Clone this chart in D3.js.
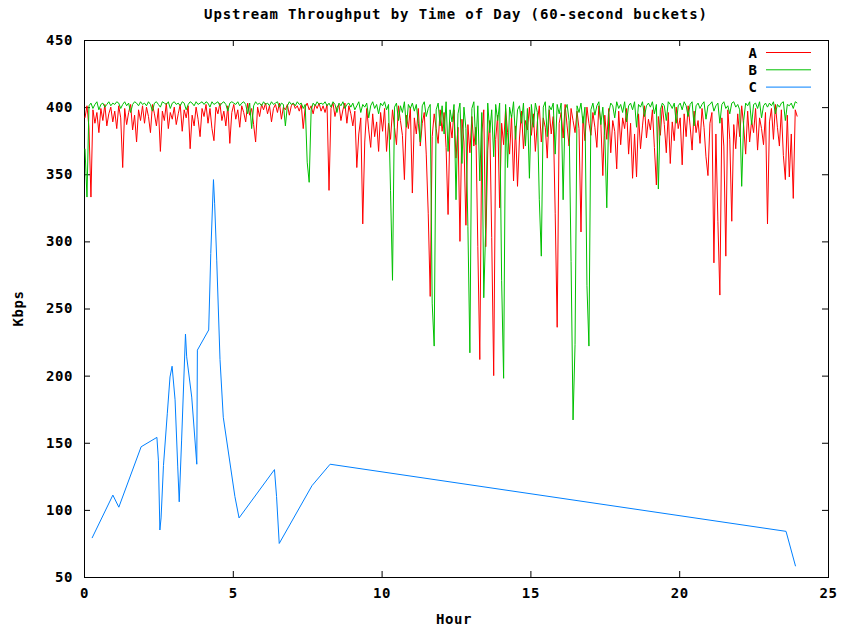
<!DOCTYPE html>
<html>
<head>
<meta charset="utf-8">
<script src="https://cdn.jsdelivr.net/npm/d3@7"></script>
<style>
  body { margin: 0; background: #fff; }
  svg text { font-family: "DejaVu Sans Mono", monospace; font-weight: bold; font-size: 14px; fill: #000; }
</style>
</head>
<body>
<svg id="chart" width="846" height="633"></svg>
<script>
// ---- data -------------------------------------------------------------
const chartTitle = "Upstream Throughput by Time of Day (60-second buckets)";
const xLabel = "Hour";
const yLabel = "Kbps";
const xTicks = [0, 5, 10, 15, 20, 25];
const yTicks = [50, 100, 150, 200, 250, 300, 350, 400, 450];
const seriesNames = ["A", "B", "C"];
const seriesColors = ["#ff0000", "#00c000", "#0080ff"];

// A and B: one value per 4-minute step, one row per hour of the day
const bucketsPerHour = 15;
const throughputA = [
  392,401,385,333,398,388,396,381,399,390,402,386,395,400,389,
  397,384,401,392,355,399,387,396,402,383,394,374,398,390,401,
  388,400,393,381,402,395,386,399,367,397,390,403,384,396,391,
  400,387,395,402,382,398,392,401,369,394,386,400,391,378,399,
  393,402,388,399,384,375,400,395,403,390,397,386,401,373,396,
  402,391,398,385,401,396,389,403,394,399,387,374,400,393,402,
  398,403,395,401,389,399,402,396,403,391,400,398,402,394,401,
  403,399,401,397,402,384,400,403,398,401,395,402,399,403,397,
  401,396,402,338,399,403,393,400,402,390,398,403,388,401,395,
  386,397,355,380,392,313,374,399,383,370,395,378,389,367,396,
  382,399,367,388,376,398,385,372,401,390,379,346,394,384,400,
  336,392,380,399,371,388,396,365,321,259,378,395,384,373,398,
  382,396,370,320,389,377,398,362,385,300,391,374,312,387,366,
  393,371,385,296,212,380,398,296,368,390,303,200,376,394,325,
  388,372,399,381,365,394,345,386,341,377,397,369,390,383,400,
  379,395,367,389,401,374,392,385,362,398,380,393,321,236,388,
  396,377,402,386,371,399,390,381,397,384,307,393,375,400,388,
  379,396,385,370,401,388,349,394,376,399,366,390,382,354,397,
  372,392,384,399,365,388,347,380,348,395,369,386,401,377,391,
  383,398,370,342,393,379,401,387,366,396,358,389,375,400,384,
  392,357,395,378,401,386,368,397,381,390,373,399,385,363,349,
  388,396,284,380,315,260,392,371,289,398,376,315,387,369,395,
  378,401,386,365,397,374,390,381,399,368,392,384,372,396,313,
  389,399,376,402,385,371,398,364,346,394,348,380,332,398,393
];
const throughputB = [
  369,333,401,403,399,402,404,398,402,403,400,402,404,401,403,
  402,404,403,399,402,404,401,403,396,402,404,403,401,404,402,
  403,401,404,402,397,403,404,402,400,404,403,402,404,399,403,
  404,402,403,401,404,403,398,402,404,403,401,404,402,403,404,
  402,404,403,400,404,402,403,404,401,403,404,402,397,403,404,
  403,402,404,401,403,404,402,395,403,384,401,404,402,403,401,
  404,402,403,401,404,402,403,404,400,403,402,386,401,404,402,
  403,401,404,402,403,399,402,359,344,398,403,401,404,402,403,
  402,404,401,403,400,404,402,396,403,401,404,399,402,403,400,
  403,398,401,404,396,402,400,403,392,401,404,399,402,395,403,
  401,404,398,402,338,271,400,403,390,401,396,404,385,402,399,
  403,397,402,388,374,401,404,393,399,402,254,222,398,403,386,
  401,380,404,367,398,389,402,331,395,403,358,400,384,311,217,
  399,404,372,401,345,396,258,312,403,381,398,363,402,390,403,
  271,198,402,355,400,392,404,376,398,401,388,403,371,399,347,
  402,385,403,396,331,289,400,404,378,401,398,403,365,402,395,
  403,331,398,402,390,285,167,223,401,396,403,388,400,267,222,
  398,403,394,401,404,387,400,379,325,396,403,401,392,404,399,
  402,396,404,389,401,403,398,404,385,402,400,404,393,401,403,
  400,404,395,402,339,398,403,401,390,404,402,399,403,388,401,
  403,398,404,401,393,402,404,386,401,403,399,402,404,391,401,
  402,404,397,401,403,388,402,404,399,401,395,403,404,400,402,
  398,341,390,403,401,404,387,402,403,399,404,392,401,403,400,
  403,401,404,395,402,400,403,404,390,402,401,403,399,404,403
];

// C: irregular samples (hour, Kbps)
const hoursC = [
  0.27, 0.97, 1.17, 1.92, 2.45, 2.50, 2.55, 2.59, 2.67, 2.80, 2.89, 2.96,
  3.06, 3.15, 3.20, 3.28, 3.41, 3.45, 3.62, 3.79, 3.81, 4.19, 4.26, 4.35,
  4.39, 4.46, 4.57, 4.68, 5.07, 5.21, 6.40, 6.47, 6.56, 7.66, 8.27, 23.59,
  23.91
];
const throughputC = [
  79, 111, 102, 147, 154, 137, 85, 94, 133, 172, 199, 207,
  182, 132, 106, 152, 231, 214, 184, 134, 219, 234, 291, 346,
  328, 286, 212, 169, 110, 94, 130, 110, 75, 118, 134, 84,
  58
];

// ---- layout -------------------------------------------------------------
const svg = d3.select("#chart");
const plot = { left: 84, right: 828, top: 40, bottom: 577 };

const x = d3.scaleLinear().domain([0, 25]).range([plot.left, plot.right]);
const y = d3.scaleLinear().domain([50, 450]).range([plot.bottom, plot.top]);

const bucketHour = i => (i + 0.5) / bucketsPerHour;
const seriesData = [
  throughputA.map((v, i) => [bucketHour(i), v]),
  throughputB.map((v, i) => [bucketHour(i), v]),
  hoursC.map((h, i) => [h, throughputC[i]])
];

// ---- axes (ticks point inward, mirrored on the opposite side) -------------
const tickLen = 6;
function styleAxis(g) {
  g.select(".domain").remove();
  g.selectAll("line").attr("stroke", "#000");
  g.selectAll("text").attr("fill", "#000")
    .style("font-family", '"DejaVu Sans Mono", monospace')
    .style("font-weight", "bold").style("font-size", "14px")
    .style("letter-spacing", "0.6px");
}

svg.append("g").attr("transform", `translate(${plot.left},0)`)
  .call(d3.axisLeft(y).tickValues(yTicks).tickSize(-tickLen).tickPadding(11).tickFormat(d3.format("d")))
  .call(styleAxis);
svg.append("g").attr("transform", `translate(${plot.right},0)`)
  .call(d3.axisRight(y).tickValues(yTicks).tickSize(-tickLen).tickFormat(""))
  .call(styleAxis);
svg.append("g").attr("transform", `translate(0,${plot.bottom})`)
  .call(d3.axisBottom(x).tickValues(xTicks).tickSize(-tickLen).tickPadding(11).tickFormat(d3.format("d")))
  .call(styleAxis);
svg.append("g").attr("transform", `translate(0,${plot.top})`)
  .call(d3.axisTop(x).tickValues(xTicks).tickSize(-tickLen).tickFormat(""))
  .call(styleAxis);

// plot border
svg.append("rect")
  .attr("x", plot.left).attr("y", plot.top)
  .attr("width", plot.right - plot.left).attr("height", plot.bottom - plot.top)
  .attr("fill", "none").attr("stroke", "#000").attr("stroke-width", 1)
  .attr("shape-rendering", "crispEdges");

// ---- series -----------------------------------------------------------
const line = d3.line().x(d => x(d[0])).y(d => y(d[1]));
seriesData.forEach((data, k) => {
  svg.append("path")
    .datum(data)
    .attr("d", line)
    .attr("fill", "none")
    .attr("stroke", seriesColors[k])
    .attr("stroke-width", 1);
});

// ---- legend -----------------------------------------------------------
const legend = svg.append("g");
seriesNames.forEach((name, k) => {
  const ly = 52.5 + k * 17.3;
  legend.append("text")
    .attr("x", 757).attr("y", ly).attr("dy", "0.36em")
    .attr("text-anchor", "end").text(name);
  legend.append("line")
    .attr("x1", 766).attr("x2", 811).attr("y1", ly).attr("y2", ly)
    .attr("stroke", seriesColors[k]).attr("stroke-width", 1);
});

// ---- titles -----------------------------------------------------------
svg.append("text")
  .attr("x", (plot.left + plot.right) / 2).attr("y", 14).attr("dy", "0.36em")
  .attr("text-anchor", "middle").style("letter-spacing", "0.9px")
  .text(chartTitle);
svg.append("text")
  .attr("x", (plot.left + plot.right) / 2 - 2).attr("y", 619).attr("dy", "0.36em")
  .attr("text-anchor", "middle").style("letter-spacing", "0.6px")
  .text(xLabel);
svg.append("text")
  .attr("transform", `translate(18,${(plot.top + plot.bottom) / 2}) rotate(-90)`)
  .attr("dy", "0.36em").attr("text-anchor", "middle").style("letter-spacing", "0.6px")
  .text(yLabel);
</script>
</body>
</html>
